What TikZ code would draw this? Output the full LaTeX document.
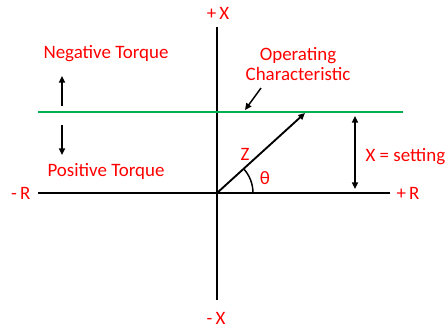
\documentclass[tikz,border=0pt]{standalone}
\usepackage{fontspec}
\setmainfont{Carlito}
\usetikzlibrary{arrows.meta,positioning}

\definecolor{charGreen}{RGB}{0,176,80}

\begin{document}
\begin{tikzpicture}[
  x=0.75pt, y=-0.75pt,
  lbl/.style={text=red, font=\fontsize{14.2}{15.5}\selectfont, inner sep=1pt, align=center},
  axis/.style={line width=1.4pt},
  arr/.style={-{Triangle[length=5pt,width=4.5pt]}, line width=1.4pt}
]
  \useasboundingbox (0,0) rectangle (447,329);
  % axes
  \coordinate (O) at (217,193);
  \coordinate (xtop) at (217,27);
  \coordinate (xbot) at (217,300);
  \coordinate (rleft) at (38,193);
  \coordinate (rright) at (390,193);
  \draw[axis] (xtop) -- (xbot);
  \draw[axis] (rleft) -- (rright);
  \node[lbl] (plusX) at (218,13) {+\,X};
  \node[lbl] (minusX) at (216,318) {-\,X};
  \node[lbl, anchor=east] (minusR) at (32,193) {-\,R};
  \node[lbl, anchor=west] (plusR) at (395,193) {+\,R};
  % operating characteristic
  \coordinate (gleft) at (38,112);
  \coordinate (gright) at (403,112);
  \draw[charGreen, line width=2pt] (gleft) -- (gright);
  \node[lbl] (opchar) at (298,64) {Operating\\Characteristic};
  \coordinate (optail) at (261,88);
  \coordinate (ophead) at (245,110);
  \draw[arr, line width=1.1pt] (optail) -- (ophead);
  % impedance and angle
  \coordinate (ztip) at (305,113);
  \draw[arr] (O) -- (ztip);
  \node[lbl] (zlbl) at (245,154) {Z};
  \draw[line width=1.1pt] (O) ++(27pt,0) arc[start angle=0, end angle=42, radius=27pt];
  \node[lbl] (theta) at (265,178) {θ};
  % setting
  \coordinate (stop) at (355,116);
  \coordinate (sbot) at (355,189);
  \draw[arr, {Triangle[length=5pt,width=4.5pt]}-{Triangle[length=5pt,width=4.5pt]}, line width=1.1pt] (stop) -- (sbot);
  \node[lbl, anchor=west] (setting) at (364,157) {X = setting};
  % torque regions
  \node[lbl] (negT) at (106,54) {Negative Torque};
  \node[lbl] (posT) at (106,171) {Positive Torque};
  \coordinate (nbot) at (62,106);
  \coordinate (ntop) at (62,76);
  \coordinate (ptop) at (62,125);
  \coordinate (pbot) at (62,155);
  \draw[arr] (nbot) -- (ntop);
  \draw[arr] (ptop) -- (pbot);
\end{tikzpicture}
\end{document}
